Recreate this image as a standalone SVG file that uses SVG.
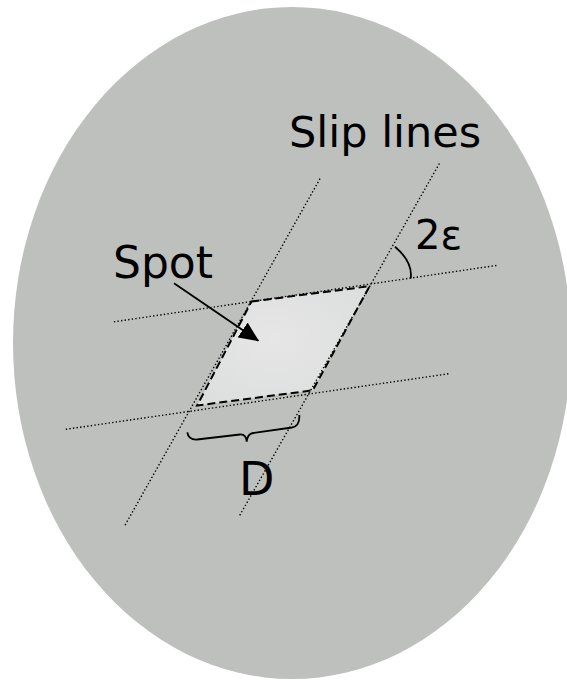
<svg xmlns="http://www.w3.org/2000/svg" width="567" height="680" viewBox="0 0 567 680">
<style>
.lbl{font-family:"DejaVu Sans","Liberation Sans",sans-serif;fill:#000}
.dot{stroke:#000;stroke-width:1.4;stroke-dasharray:1.4 2.2;fill:none}
</style>
<defs>
<marker id="ah" markerWidth="20" markerHeight="18" refX="19" refY="9" orient="auto" markerUnits="userSpaceOnUse">
<path d="M0,0 L20,9 L0,18 Z" fill="#000"/>
</marker>
<radialGradient id="spotg" cx="0.45" cy="0.45" r="0.7">
<stop offset="0" stop-color="#e6e6e7"/>
<stop offset="1" stop-color="#dcdddd"/>
</radialGradient>
</defs>
<rect width="567" height="680" fill="#fff"/>
<g id="disc">
<ellipse cx="292" cy="343" rx="279" ry="336" fill="#bec0be"/>
</g>
<g id="spot">
<polygon points="251.5,301.5 369.6,286.2 312.8,390.3 197.1,405.5" fill="url(#spotg)" stroke="#000" stroke-width="2" stroke-dasharray="8 4"/>
</g>
<g id="connectors">
<line class="dot" x1="320" y1="178.7" x2="124.8" y2="525.6"/>
<line class="dot" x1="439.4" y1="163.5" x2="239.4" y2="516"/>
<line class="dot" x1="113.9" y1="321.8" x2="496.6" y2="265.4"/>
<line class="dot" x1="65.8" y1="429.3" x2="448.5" y2="373.8"/>
<line x1="174" y1="283.3" x2="258.3" y2="340.7" stroke="#000" stroke-width="1.8" marker-end="url(#ah)"/>
<path d="M395,246.7 Q413,262 410.7,278.5" fill="none" stroke="#000" stroke-width="1.8"/>
<path d="M187.3,432.3 Q188.5,440 197,439.5 L240,434.5 Q246,434 246.7,441.7 Q247.5,433.8 253,433 L292,427.5 Q300,426 299.3,415" fill="none" stroke="#000" stroke-width="1.8"/>
</g>
<g id="labels">
<text class="lbl" x="289" y="147" font-size="43">Slip lines</text>
<text class="lbl" x="113" y="278" font-size="44">Spot</text>
<text class="lbl" x="415" y="249" font-size="40">2ε</text>
<text class="lbl" x="239" y="495" font-size="46">D</text>
</g>
</svg>
